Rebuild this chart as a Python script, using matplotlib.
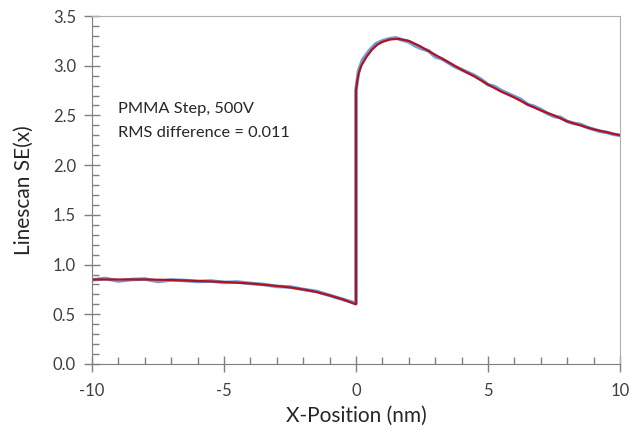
import matplotlib
matplotlib.use("Agg")
import matplotlib.pyplot as plt
from matplotlib.ticker import MultipleLocator

plt.rcParams['font.family'] = ['Lato', 'DejaVu Sans']
plt.rcParams['axes.unicode_minus'] = False

# fitted model (red)
fit_x = [-10, -9, -8, -7, -6, -5, -4, -3, -2.5, -2, -1.5, -1, -0.5, 0,
         0, 0.05, 0.1, 0.2, 0.4, 0.6, 0.8, 1.0, 1.3, 1.6, 2.0, 2.4, 2.8,
         3.2, 3.6, 4.0, 4.5, 5.0, 5.5, 6.0, 6.5, 7.0, 7.5, 8.0, 8.5, 9.0,
         9.5, 10]
fit_y = [0.85, 0.85, 0.85, 0.845, 0.835, 0.825, 0.81, 0.785, 0.77, 0.75,
         0.725, 0.69, 0.65, 0.60,
         2.75, 2.85, 2.92, 3.0, 3.09, 3.16, 3.21, 3.24, 3.265, 3.27, 3.25,
         3.2, 3.14, 3.08, 3.02, 2.96, 2.89, 2.81, 2.74, 2.68, 2.61, 2.55,
         2.5, 2.44, 2.4, 2.36, 2.33, 2.30]

# measured linescan (blue)
meas_x = [-10, -9.5, -9, -8.5, -8, -7.5, -7, -6.5, -6, -5.5, -5, -4.5, -4,
          -3.5, -3, -2.5, -2, -1.5, -1, -0.5, 0,
          0, 0.1, 0.25, 0.5, 0.75, 1.0, 1.25, 1.5, 1.75, 2.0, 2.25, 2.5,
          2.75, 3.0, 3.25, 3.5, 3.75, 4.0, 4.25, 4.5, 4.75, 5.0, 5.25,
          5.5, 5.75, 6.0, 6.25, 6.5, 6.75, 7.0, 7.25, 7.5, 7.75, 8.0,
          8.25, 8.5, 8.75, 9.0, 9.25, 9.5, 9.75, 10]
meas_y = [0.845, 0.86, 0.835, 0.85, 0.855, 0.83, 0.845, 0.84, 0.83, 0.835,
          0.82, 0.825, 0.81, 0.80, 0.78, 0.775, 0.75, 0.73, 0.69, 0.65, 0.61,
          2.76, 2.95, 3.06, 3.15, 3.22, 3.25, 3.27, 3.28, 3.26, 3.24, 3.2,
          3.17, 3.15, 3.09, 3.07, 3.03, 2.99, 2.96, 2.93, 2.9, 2.86, 2.81,
          2.79, 2.75, 2.72, 2.69, 2.66, 2.61, 2.59, 2.56, 2.52, 2.49,
          2.48, 2.44, 2.42, 2.41, 2.38, 2.36, 2.34, 2.33, 2.31, 2.30]

fig = plt.figure(figsize=(6.39, 4.32), dpi=100)
ax = fig.add_axes([92 / 639, 68 / 432, 528 / 639, 348 / 432])

ax.plot(meas_x, meas_y, color='#6a9fd8', lw=2.6)
ax.plot(fit_x, fit_y, color='#b4101e', lw=1.6)

ax.set_xlim(-10, 10)
ax.set_ylim(0, 3.5)
ax.xaxis.set_major_locator(MultipleLocator(5))
ax.xaxis.set_minor_locator(MultipleLocator(1))
ax.yaxis.set_major_locator(MultipleLocator(0.5))
ax.yaxis.set_minor_locator(MultipleLocator(0.1))
ax.yaxis.set_major_formatter(plt.FormatStrFormatter('%.1f'))

ax.tick_params(which='major', direction='inout', length=11, width=1,
               color='#7f7f7f', labelsize=12, labelcolor='#404040')
ax.tick_params(which='minor', direction='in', length=5, width=1, color='#7f7f7f')
ax.tick_params(axis='x', pad=8)
ax.tick_params(axis='y', pad=6)

for side in ['left', 'bottom']:
    ax.spines[side].set_color('#7f7f7f')
for side in ['top', 'right']:
    ax.spines[side].set_color('#b0b0b0')

ax.set_xlabel('X-Position (nm)', fontsize=15, color='#262626', labelpad=5)
ax.set_ylabel('Linescan SE(x)', fontsize=15, color='#262626', labelpad=14)

ax.text(0.049, 0.72, 'PMMA Step, 500V', transform=ax.transAxes,
        fontsize=11.8, color='#262626', va='baseline')
ax.text(0.049, 0.652, 'RMS difference = 0.011', transform=ax.transAxes,
        fontsize=11.8, color='#262626', va='baseline')

fig.savefig('out.png', dpi=100)
